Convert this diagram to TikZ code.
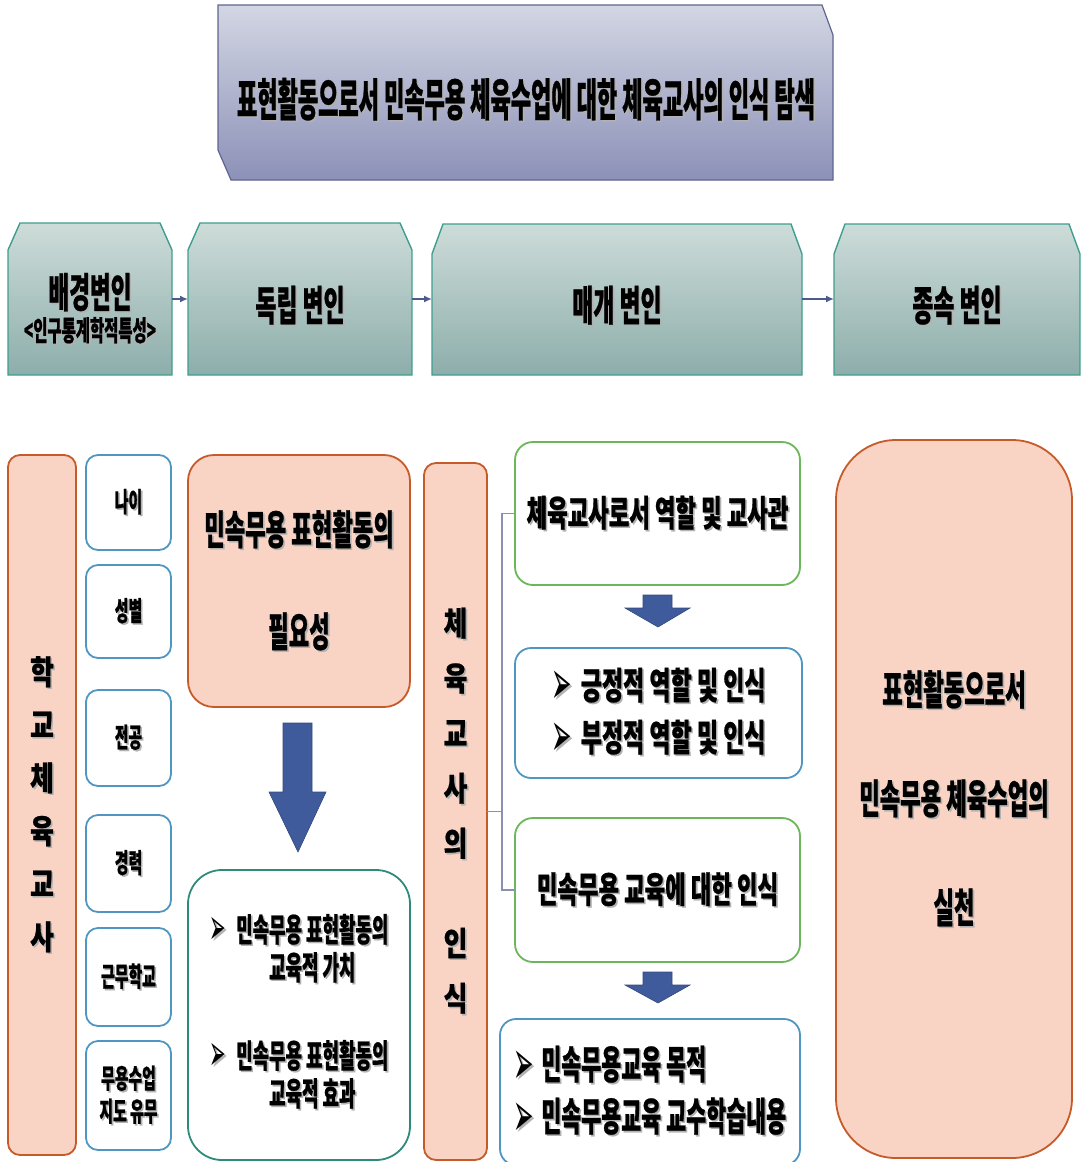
\documentclass[tikz,border=0pt]{standalone}
\usepackage{fontspec}
\usetikzlibrary{arrows.meta}
\newfontfamily\kr{Noto Sans CJK KR}[FakeStretch=0.55,FakeBold=0.6]
\newfontfamily\krT{Noto Sans CJK KR}[FakeStretch=0.49,FakeBold=0.6]
\newfontfamily\krW{Noto Sans CJK KR}[FakeStretch=0.62,FakeBold=0.6]
\newfontfamily\krv{Noto Sans CJK KR}[FakeStretch=0.78,FakeBold=0.6]
\newfontfamily\dvs{DejaVu Sans}
\definecolor{peach}{HTML}{F9D3C3}
\definecolor{peachline}{HTML}{C65A28}
\definecolor{blueline}{HTML}{5096C2}
\definecolor{greenline}{HTML}{6CB65C}
\definecolor{tealline}{HTML}{2E8B7A}
\definecolor{titletop}{HTML}{D3D6E3}
\definecolor{titlebot}{HTML}{8C91B8}
\definecolor{titleline}{HTML}{5F6590}
\definecolor{rowtop}{HTML}{CDDCD9}
\definecolor{rowbot}{HTML}{8DAEAB}
\definecolor{rowline}{HTML}{3F9E8E}
\definecolor{blockarrow}{HTML}{3F5B9B}
\definecolor{connline}{HTML}{4D5B8C}
\definecolor{brackline}{HTML}{8A90B0}
\newcommand{\shd}[1]{\leavevmode\rlap{\kern1.6pt\raisebox{-1.6pt}{\textcolor{black!30}{#1}}}#1}
\newcommand{\bul}[2]{\raisebox{#2}{$\vcenter{\hbox{\dvs\fontsize{#1}{#1}\selectfont\shd{\scalebox{0.58}[1.5]{➢}}}}$}}
\begin{document}
\begin{tikzpicture}[x=1pt,y=-1pt,
  every node/.style={inner sep=0pt, outer sep=0pt},
  titleshape/.style={draw=titleline, line width=1.2pt, top color=titletop, bottom color=titlebot},
  rowshape/.style={draw=rowline, line width=1.4pt, top color=rowtop, bottom color=rowbot},
  rowlabel/.style={align=center, font=\kr\bfseries\fontsize{41.5}{44}\selectfont},
  conn/.style={draw=connline, line width=1.6pt, -{Latex[length=8pt,width=7pt]}},
  peachbox/.style={draw=peachline, line width=1.8pt, fill=peach, rounded corners=#1},
  bluebox/.style={draw=blueline, line width=1.8pt, fill=white, rounded corners=12pt},
  greenbox/.style={draw=greenline, line width=1.8pt, fill=white, rounded corners=18pt},
  tealbox/.style={draw=tealline, line width=1.8pt, fill=white, rounded corners=34pt},
  smalltxt/.style={align=center, font=\kr\bfseries\fontsize{27}{33}\selectfont},
  bigtxt/.style={font=\kr\bfseries\fontsize{40.5}{52}\selectfont},
  blockarr/.style={fill=blockarrow, draw=blockarrow!80!black, line width=0.6pt},
  brk/.style={draw=brackline, line width=1.2pt}
]
\useasboundingbox (0,0) rectangle (1081,1162);

% ---------- title ----------
\path[titleshape] (218,5) -- (822,5) -- (833,35) -- (833,180) -- (231,180) -- (218,150) -- cycle;
\node[font=\krT\bfseries\fontsize{45}{45}\selectfont] (title) at (526,100) {\shd{표현활동으로서 민속무용 체육수업에 대한 체육교사의 인식 탐색}};

% ---------- variable row ----------
\path[rowshape] (8,250) -- (20,223) -- (160,223) -- (172,250) -- (172,375) -- (8,375) -- cycle;
\path[rowshape] (188,250) -- (200,223) -- (400,223) -- (412,250) -- (412,375) -- (188,375) -- cycle;
\path[rowshape] (432,254) -- (443,224) -- (791,224) -- (802,254) -- (802,375) -- (432,375) -- cycle;
\path[rowshape] (834,254) -- (845,224) -- (1069,224) -- (1080,254) -- (1080,375) -- (834,375) -- cycle;

\node[minimum width=164pt, minimum height=152pt, align=center] (bg) at (90,309)
  {{\kr\bfseries\fontsize{41}{42}\selectfont\shd{배경변인}}\\[3pt]{\kr\bfseries\fontsize{28}{30}\selectfont\shd{<인구통계학적특성>}}};
\node[minimum width=224pt, minimum height=152pt, rowlabel] (ind) at (300,306) {\shd{독립 변인}};
\node[minimum width=370pt, minimum height=152pt, rowlabel] (med) at (617,306) {\shd{매개 변인}};
\node[minimum width=246pt, minimum height=152pt, rowlabel] (dep) at (957,306) {\shd{종속 변인}};

\draw[conn] (bg.east |- 0,299) -- (ind.west |- 0,299);
\draw[conn] (412,299) -- (med.west |- 0,299);
\draw[conn] (med.east |- 0,299) -- (dep.west |- 0,299);

% ---------- left: teachers ----------
\node[peachbox=12pt, minimum width=68pt, minimum height=700pt, align=center,
      font=\krv\bfseries\fontsize{33}{53}\selectfont] (tch) at (42,805)
  {\shd{학}\\\shd{교}\\\shd{체}\\\shd{육}\\\shd{교}\\\shd{사}};

\node[bluebox, minimum width=85pt, minimum height=95pt, smalltxt] (age) at (128.5,502.5) {\shd{나이}};
\node[bluebox, minimum width=85pt, minimum height=93pt, smalltxt] (sex) at (128.5,611.5) {\shd{성별}};
\node[bluebox, minimum width=85pt, minimum height=96pt, smalltxt] (maj) at (128.5,738) {\shd{전공}};
\node[bluebox, minimum width=85pt, minimum height=97pt, smalltxt] (car) at (128.5,863.5) {\shd{경력}};
\node[bluebox, minimum width=85pt, minimum height=98pt, smalltxt] (sch) at (128.5,977) {\shd{근무학교}};
\node[bluebox, minimum width=85pt, minimum height=109pt, smalltxt] (dan) at (128.5,1095.5) {\shd{무용수업}\\\shd{지도 유무}};

% ---------- independent ----------
\node[peachbox=26pt, minimum width=222pt, minimum height=252pt, align=center, bigtxt] (need) at (299,581)
  {\shd{민속무용 표현활동의}\\[50pt]\shd{필요성}};
\path[blockarr] (283,723) -- (312,723) -- (312,792) -- (326,792) -- (298,852) -- (269,792) -- (283,792) -- cycle;
\node[tealbox, minimum width=222pt, minimum height=290pt,
      font=\kr\bfseries\fontsize{32.5}{35}\selectfont] (val) at (299,1015)
  {\begin{tabular}{@{}l@{\hspace{10pt}}c@{}}
     \bul{34}{3.6pt} & \shd{민속무용 표현활동의}\\
          & \shd{교육적 가치}\\[50pt]
     \bul{34}{3.6pt} & \shd{민속무용 표현활동의}\\
          & \shd{교육적 효과}
   \end{tabular}};

% ---------- mediating ----------
\node[peachbox=12pt, minimum width=63pt, minimum height=697pt, align=center,
      font=\krv\bfseries\fontsize{33}{55}\selectfont] (rec) at (455.5,811.5)
  {\shd{체}\\\shd{육}\\\shd{교}\\\shd{사}\\\shd{의}\\[45pt]\shd{인}\\\shd{식}};

\node[greenbox, minimum width=285pt, minimum height=143pt,
      font=\krW\bfseries\fontsize{36}{36}\selectfont] (g1) at (657.5,513.5) {\shd{체육교사로서 역할 및 교사관}};
\path[blockarr] (643,595) -- (672,595) -- (672,608) -- (690,608) -- (658,627) -- (625,608) -- (643,608) -- cycle;
\node[bluebox, rounded corners=16pt, minimum width=287pt, minimum height=130pt, align=left,
      font=\krW\bfseries\fontsize{37}{52}\selectfont] (b2) at (658.5,713)
  {\bul{42}{4pt}\hspace{9pt}\shd{긍정적 역할 및 인식}\\\bul{42}{4pt}\hspace{9pt}\shd{부정적 역할 및 인식}};
\node[greenbox, minimum width=285pt, minimum height=144pt,
      font=\krW\bfseries\fontsize{36}{36}\selectfont] (g3) at (657.5,890) {\shd{민속무용 교육에 대한 인식}};
\path[blockarr] (643,972) -- (672,972) -- (672,985) -- (690,985) -- (658,1003) -- (625,985) -- (643,985) -- cycle;
\node[bluebox, rounded corners=16pt, minimum width=300pt, minimum height=146pt, align=left,
      font=\kr\bfseries\fontsize{39.5}{52}\selectfont] (b4) at (650,1092)
  {\bul{42}{4pt}\hspace{7pt}\shd{민속무용교육 목적}\\\bul{42}{4pt}\hspace{7pt}\shd{민속무용교육 교수학습내용}};

\draw[brk] (rec.east) -- ++(15,0) coordinate (bj);
\draw[brk] (g1.west) -- (g1.west -| bj) -- (g3.west -| bj) -- (g3.west);

% ---------- dependent ----------
\node[peachbox=60pt, minimum width=236pt, minimum height=718pt, align=center, bigtxt] (prac) at (954,799)
  {\shd{표현활동으로서}\\[57pt]\shd{민속무용 체육수업의}\\[57pt]\shd{실천}};
\end{tikzpicture}
\end{document}
